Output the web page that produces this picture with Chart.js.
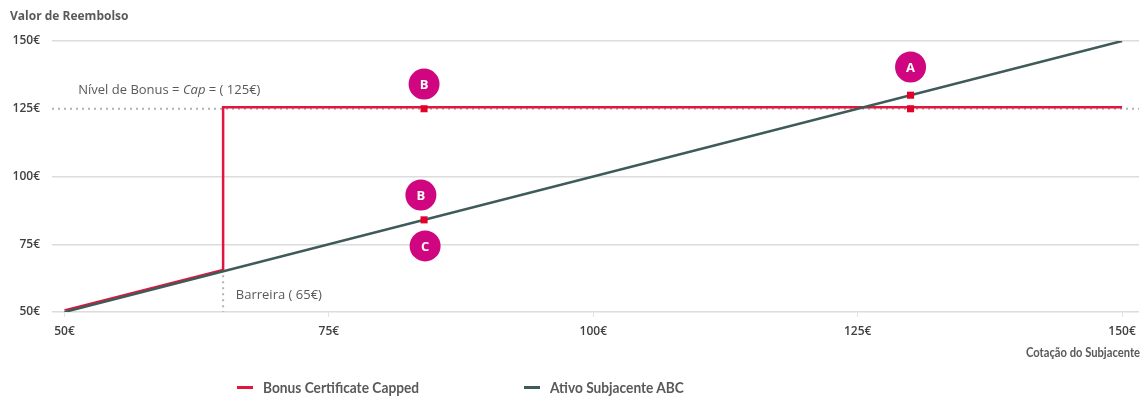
<!DOCTYPE html>
<html lang="pt">
<head>
<meta charset="utf-8">
<title>Bonus Certificate Capped</title>
<script src="https://cdn.jsdelivr.net/npm/chart.js@4.4.1/dist/chart.umd.min.js"></script>
<style>
  html, body { margin: 0; padding: 0; background: #fff; }
  #wrap { position: relative; width: 1148px; height: 400px; }
  #grafico { position: absolute; left: 0; top: 0; }
  #legenda { position: absolute; left: 0; top: 376px; width: 1148px; height: 22px;
    font: 700 15px Lato, sans-serif; color: #595959; }
  .item { position: absolute; top: 0; height: 22px; display: flex; align-items: center; white-space: nowrap; }
  .traco { width: 16px; height: 3px; margin-right: 10px; }
  .rotulo { display: inline-block; transform-origin: left center; }
</style>
</head>
<body>
<div id="wrap">
  <canvas id="grafico" width="1148" height="400"></canvas>
  <div id="legenda"></div>
</div>
<script>
// eixos
const xTicks = [50, 75, 100, 125, 150];
const yTicks = [50, 75, 100, 125, 150];

// Bonus Certificate Capped: acompanha o ativo até à barreira, depois fica no nível de bonus
const bonusX = [50, 65, 65, 150];
const bonusY = [50, 65, 125, 125];

// Ativo Subjacente ABC
const ativoX = [50, 150];
const ativoY = [50, 150];

const barreira = 65;
const nivelBonus = 125;

// pontos assinalados nas linhas
const pontosX = [84, 84, 130, 130];
const pontosY = [125, 84, 130, 125];

// etiquetas dos cenários
const cenarios = ['B', 'B', 'C', 'A'];
const cenarioX = [84, 83.7, 84.1, 130];
const cenarioY = [134.1, 93.2, 74.4, 140.4];

const VERMELHO = '#e2163c';
const CINZA_ESCURO = '#3e5a59';
const MAGENTA = '#cf067f';
const TEXTO = '#595959';
// fonte estreita: o texto é comprimido na horizontal
const ESTREITA_EIXO = 0.8;
const ESTREITA_LEGENDA = 0.915;

const toXY = (xs, ys) => xs.map((x, i) => ({ x, y: ys[i] }));

// linhas pontilhadas e textos de apoio
const guias = {
  id: 'guias',
  beforeDatasetsDraw(chart) {
    const { ctx, chartArea, scales: { x, y } } = chart;
    ctx.save();
    ctx.strokeStyle = '#b3b3b3';
    ctx.lineWidth = 2;
    ctx.setLineDash([2, 4]);
    const yb = y.getPixelForValue(nivelBonus);
    ctx.beginPath();
    ctx.moveTo(chartArea.left, yb);
    ctx.lineTo(chartArea.right, yb);
    ctx.stroke();

    const xb = x.getPixelForValue(barreira);
    ctx.beginPath();
    ctx.moveTo(xb, y.getPixelForValue(barreira) + 4);
    ctx.lineTo(xb, chartArea.bottom);
    ctx.stroke();
    ctx.setLineDash([]);

    ctx.fillStyle = TEXTO;
    ctx.textBaseline = 'middle';
    ctx.textAlign = 'left';
    // "Nível de Bonus = Cap = ( 125€)" com Cap em itálico
    const partes = [['Nível de Bonus = ', ''], ['Cap', 'italic '], [' = ( 125€)', '']];
    let px = x.getPixelForValue(51.3);
    const py = y.getPixelForValue(131.9);
    partes.forEach(([txt, estilo]) => {
      ctx.font = estilo + '13px "Open Sans", sans-serif';
      ctx.fillText(txt, px, py);
      px += ctx.measureText(txt).width;
    });
    ctx.font = '13px "Open Sans", sans-serif';
    ctx.fillText('Barreira ( 65€)', x.getPixelForValue(66.2), y.getPixelForValue(56.3));
    ctx.restore();
  },
  // a linha do certificado fica ligeiramente acima da do ativo
  beforeDatasetDraw(chart, args) {
    if (args.index === 0) {
      chart.ctx.save();
      chart.ctx.translate(0, -1.5);
    }
  },
  afterDatasetDraw(chart, args) {
    if (args.index === 0) chart.ctx.restore();
  },
  afterDatasetsDraw(chart) {
    const { ctx } = chart;
    const meta = chart.getDatasetMeta(3);
    ctx.save();
    ctx.fillStyle = '#fff';
    ctx.font = 'bold 13px "Open Sans", sans-serif';
    ctx.textAlign = 'center';
    ctx.textBaseline = 'middle';
    meta.data.forEach((pt, i) => ctx.fillText(cenarios[i], pt.x, pt.y + 1));
    ctx.restore();
  },
  // título do eixo x, alinhado à direita por baixo das marcas
  afterDraw(chart) {
    const { ctx, chartArea } = chart;
    ctx.save();
    ctx.font = 'bold 14px Lato, sans-serif';
    ctx.fillStyle = TEXTO;
    ctx.textAlign = 'right';
    ctx.textBaseline = 'middle';
    ctx.translate(chartArea.right + 1, chartArea.bottom + 40);
    ctx.scale(ESTREITA_EIXO, 1);
    ctx.fillText('Cotação do Subjacente', 0, 0);
    ctx.restore();
  }
};

const chart = new Chart(document.getElementById('grafico'), {
  type: 'scatter',
  data: {
    datasets: [
      {
        label: 'Bonus Certificate Capped',
        data: toXY(bonusX, bonusY),
        showLine: true,
        borderColor: VERMELHO,
        backgroundColor: VERMELHO,
        borderWidth: 2.5,
        pointRadius: 0,
        order: 4
      },
      {
        label: 'Ativo Subjacente ABC',
        data: toXY(ativoX, ativoY),
        showLine: true,
        borderColor: CINZA_ESCURO,
        backgroundColor: CINZA_ESCURO,
        borderWidth: 2.5,
        pointRadius: 0,
        order: 3
      },
      {
        data: toXY(pontosX, pontosY),
        pointStyle: 'rect',
        pointRadius: 5,
        backgroundColor: '#e3002b',
        borderWidth: 0,
        order: 2
      },
      {
        data: toXY(cenarioX, cenarioY),
        pointRadius: 15.5,
        backgroundColor: MAGENTA,
        borderWidth: 0,
        order: 1
      }
    ]
  },
  options: {
    responsive: false,
    animation: false,
    events: [],
    layout: { autoPadding: false, padding: { left: 10, right: 9, bottom: 38, top: 0 } },
    plugins: {
      legend: { display: false },
      tooltip: { enabled: false },
      title: {
        display: true,
        text: 'Valor de Reembolso',
        align: 'start',
        color: TEXTO,
        font: { family: '"Open Sans", sans-serif', size: 12, weight: 'bold' },
        padding: { top: 9, bottom: 17.6 }
      }
    },
    scales: {
      x: {
        type: 'linear',
        min: 48.82,
        max: 151.6,
        afterBuildTicks: s => { s.ticks = xTicks.map(v => ({ value: v })); },
        afterFit: s => { s.height = 50; s.paddingLeft = 0; s.paddingRight = 0; },
        border: { display: false },
        grid: { drawOnChartArea: false, tickLength: 5, color: '#e3e3e3' },
        ticks: {
          padding: 7,
          color: '#404040',
          font: { family: '"Open Sans", sans-serif', size: 12, weight: '600' },
          callback: v => v + '€'
        }
      },
      y: {
        type: 'linear',
        min: 50,
        max: 150,
        afterBuildTicks: s => { s.ticks = yTicks.map(v => ({ value: v })); },
        afterFit: s => { s.width = 42; },
        border: { display: false },
        grid: {
          drawTicks: false,
          lineWidth: 1.5,
          color: c => (c.tick && c.tick.value === nivelBonus ? 'rgba(0,0,0,0)' : '#dcdcdc')
        },
        ticks: {
          padding: 12,
          color: '#404040',
          font: { family: '"Open Sans", sans-serif', size: 12, weight: '600' },
          callback: v => v + '€'
        }
      }
    }
  },
  plugins: [guias]
});

// legenda com as duas séries em linha
const posLegenda = [237, 524];
const legenda = document.getElementById('legenda');
chart.data.datasets.filter(d => d.label).forEach((d, i) => {
  const item = document.createElement('div');
  item.className = 'item';
  item.style.left = posLegenda[i] + 'px';
  const traco = document.createElement('span');
  traco.className = 'traco';
  traco.style.background = d.borderColor;
  const txt = document.createElement('span');
  txt.className = 'rotulo';
  txt.style.transform = 'scaleX(' + ESTREITA_LEGENDA + ')';
  txt.textContent = d.label;
  item.append(traco, txt);
  legenda.appendChild(item);
});
</script>
</body>
</html>
